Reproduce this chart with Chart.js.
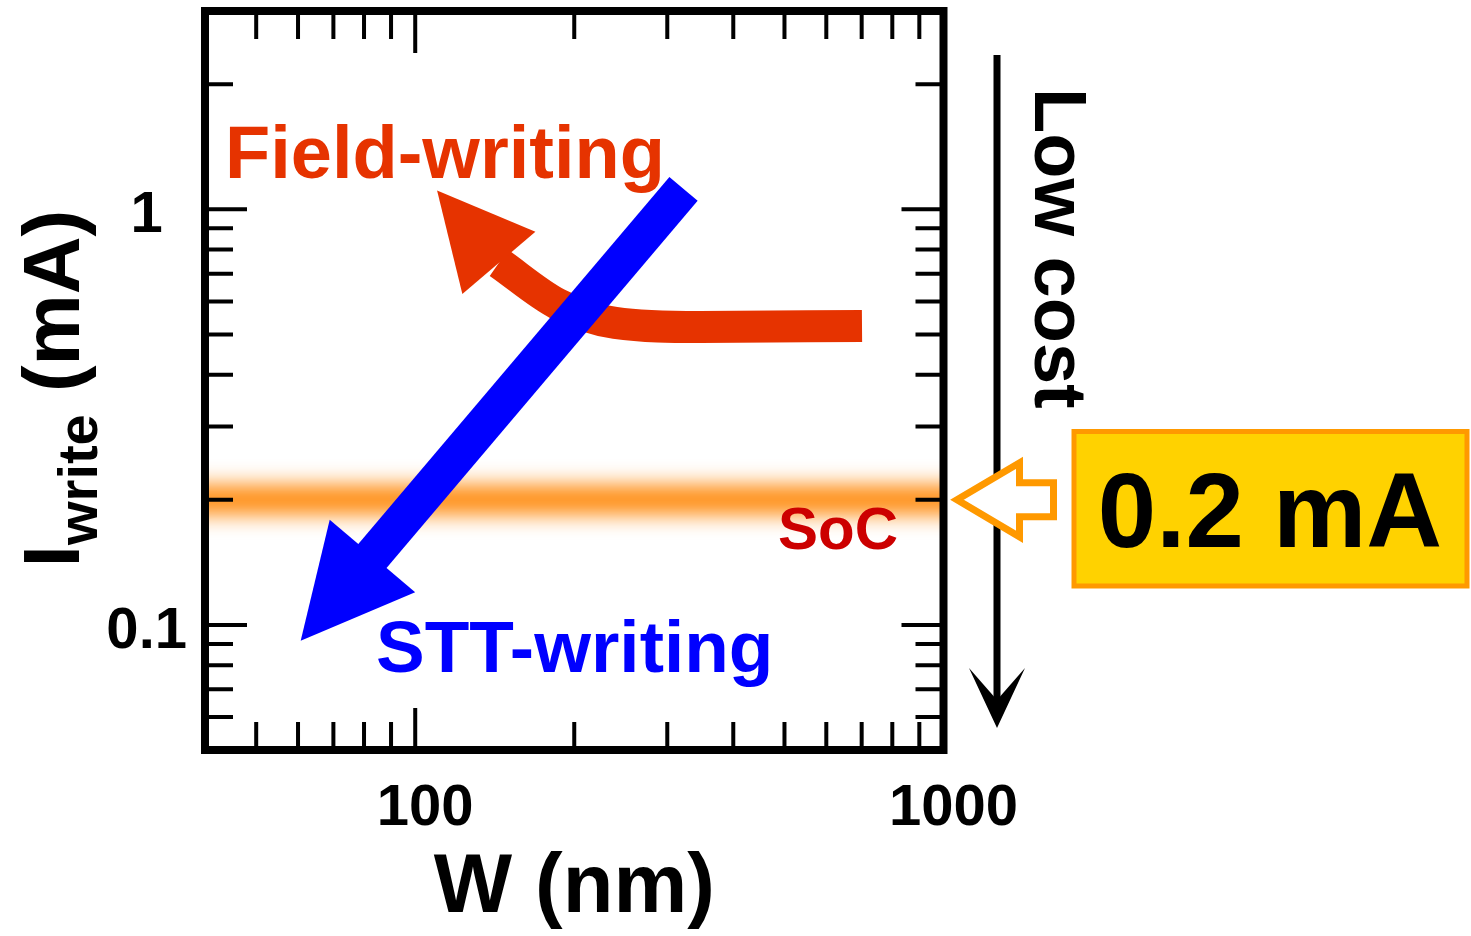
<!DOCTYPE html>
<html>
<head>
<meta charset="utf-8">
<script src="https://cdn.jsdelivr.net/npm/chart.js@4.4.0/dist/chart.umd.min.js"></script>
<style>
  html, body { margin: 0; padding: 0; background: #ffffff; }
  #wrap { position: relative; width: 1471px; height: 936px; }
</style>
</head>
<body>
<div id="wrap"><canvas id="chart"></canvas></div>
<script>
// Axis extents (log-log)
const wRange = [40, 1000];     // W (nm)
const iRange = [0.05, 3];      // I_write (mA)

// Tick marks and labelled (major) ticks
const wTicks = [50, 60, 70, 80, 90, 100, 200, 300, 400, 500, 600, 700, 800, 900, 1000];
const wMajor = [100, 1000];
const iTicks = [0.06, 0.07, 0.08, 0.09, 0.1, 0.2, 0.3, 0.4, 0.5, 0.6, 0.7, 0.8, 0.9, 1, 2];
const iMajor = [0.1, 1];

// SoC write-current level
const socLevel = 0.2;
const socSpanW = [30, 1300];

// Field-writing trend: first point is the arrow tip, the rest is the shaft
const fieldW = [110, 144, 186, 239, 346, 701];
const fieldI = [1.11, 0.743, 0.592, 0.533, 0.521, 0.524];

// STT-writing trend: tail -> tip
const sttW = [322, 60.7];
const sttI = [1.12, 0.0916];

const FONT = '"Liberation Sans", Arial, Helvetica, sans-serif';
const RED = '#E63300';
const BLUE = '#0000FF';
const ORANGE = '#FF9900';
const BAND = '#FF8400';

function fillHead(ctx, tip, back, halfW, color) {
  const dx = tip.x - back.x, dy = tip.y - back.y;
  const L = Math.hypot(dx, dy);
  const nx = -dy / L, ny = dx / L;
  ctx.beginPath();
  ctx.moveTo(tip.x, tip.y);
  ctx.lineTo(back.x + nx * halfW, back.y + ny * halfW);
  ctx.lineTo(back.x - nx * halfW, back.y - ny * halfW);
  ctx.closePath();
  ctx.fillStyle = color;
  ctx.fill();
}

const decor = {
  id: 'decor',
  beforeDatasetDraw(chart, args) {
    const ds = chart.data.datasets[args.index];
    if (ds.blur) { chart.ctx.save(); chart.ctx.filter = 'blur(' + ds.blur + 'px)'; }
  },
  afterDatasetDraw(chart, args) {
    const ds = chart.data.datasets[args.index];
    if (ds.blur) chart.ctx.restore();
  },
  afterDatasetsDraw(chart) {
    const { ctx, chartArea: a, scales: { x, y } } = chart;
    const P = (w, i) => ({ x: x.getPixelForValue(w), y: y.getPixelForValue(i) });
    ctx.save();

    // Field-writing arrowhead
    fillHead(ctx, P(fieldW[0], fieldI[0]), P(fieldW[1], fieldI[1]), 48, RED);

    // STT-writing arrow
    const tail = P(sttW[0], sttI[0]), tip = P(sttW[1], sttI[1]);
    const L = Math.hypot(tip.x - tail.x, tip.y - tail.y);
    const ux = (tip.x - tail.x) / L, uy = (tip.y - tail.y) / L;
    const headLen = 111;
    const back = { x: tip.x - ux * headLen, y: tip.y - uy * headLen };
    ctx.strokeStyle = BLUE;
    ctx.lineWidth = 37;
    ctx.lineCap = 'butt';
    ctx.beginPath();
    ctx.moveTo(tail.x, tail.y);
    ctx.lineTo(back.x + ux * 2, back.y + uy * 2);
    ctx.stroke();
    fillHead(ctx, tip, back, 56, BLUE);

    // In-plot labels
    ctx.textAlign = 'left';
    ctx.textBaseline = 'alphabetic';
    ctx.font = 'bold 74px ' + FONT;
    ctx.fillStyle = RED;
    ctx.fillText('Field-writing', 225, 178);
    ctx.font = 'bold 73px ' + FONT;
    ctx.fillStyle = BLUE;
    ctx.fillText('STT-writing', 376, 672);
    ctx.font = 'bold 60px ' + FONT;
    ctx.fillStyle = '#CC0000';
    ctx.fillText('SoC', 778, y.getPixelForValue(socLevel) + 49);

    // Frame
    ctx.strokeStyle = '#000';
    ctx.lineWidth = 8;
    ctx.lineJoin = 'miter';
    ctx.strokeRect(a.left, a.top, a.right - a.left, a.bottom - a.top);

    // Inward ticks on all four sides
    ctx.lineWidth = 4;
    ctx.beginPath();
    wTicks.forEach(v => {
      const p = x.getPixelForValue(v);
      if (p < a.left + 3 || p > a.right - 3) return;
      const len = (wMajor.includes(v) ? 38 : 24) + 4;
      ctx.moveTo(p, a.bottom); ctx.lineTo(p, a.bottom - len);
      ctx.moveTo(p, a.top); ctx.lineTo(p, a.top + len);
    });
    iTicks.forEach(v => {
      const p = y.getPixelForValue(v);
      if (p < a.top + 3 || p > a.bottom - 3) return;
      const len = (iMajor.includes(v) ? 38 : 24) + 4;
      ctx.moveTo(a.left, p); ctx.lineTo(a.left + len, p);
      ctx.moveTo(a.right, p); ctx.lineTo(a.right - len, p);
    });
    ctx.stroke();
    ctx.restore();
  },
  afterDraw(chart) {
    const { ctx, chartArea: a, scales: { y } } = chart;
    const cy = y.getPixelForValue(socLevel);
    ctx.save();

    // Y-axis title with subscript
    ctx.fillStyle = '#000';
    ctx.textAlign = 'left';
    ctx.textBaseline = 'alphabetic';
    const big = 'bold 80px ' + FONT, small = 'bold 56px ' + FONT;
    ctx.font = big; const wI = ctx.measureText('I').width;
    ctx.font = small; const wSub = ctx.measureText('write').width;
    ctx.font = big; const wRest = ctx.measureText(' (mA)').width;
    const total = wI + wSub + wRest;
    const mid = (a.top + a.bottom) / 2 + 8;
    ctx.save();
    ctx.translate(79, mid + total / 2);
    ctx.rotate(-Math.PI / 2);
    ctx.font = big; ctx.fillText('I', 0, 0);
    ctx.font = small; ctx.fillText('write', wI, 18);
    ctx.font = big; ctx.fillText(' (mA)', wI + wSub, 0);
    ctx.restore();

    // "Low cost" downward arrow
    ctx.strokeStyle = '#000';
    ctx.fillStyle = '#000';
    ctx.lineWidth = 7;
    ctx.beginPath();
    ctx.moveTo(997, 55);
    ctx.lineTo(997, 705);
    ctx.stroke();
    ctx.beginPath();
    ctx.moveTo(997, 728);
    ctx.lineTo(969, 668);
    ctx.lineTo(997, 700);
    ctx.lineTo(1025, 668);
    ctx.closePath();
    ctx.fill();

    ctx.save();
    ctx.translate(1035, 88);
    ctx.rotate(Math.PI / 2);
    ctx.font = 'bold 74px ' + FONT;
    ctx.fillText('Low cost', 0, 0);
    ctx.restore();

    // Hollow arrow pointing at the SoC level
    ctx.beginPath();
    ctx.moveTo(957, cy);
    ctx.lineTo(1019.5, cy - 37);
    ctx.lineTo(1019.5, cy - 17);
    ctx.lineTo(1053.5, cy - 17);
    ctx.lineTo(1053.5, cy + 17);
    ctx.lineTo(1019.5, cy + 17);
    ctx.lineTo(1019.5, cy + 37);
    ctx.closePath();
    ctx.fillStyle = '#fff';
    ctx.fill();
    ctx.strokeStyle = ORANGE;
    ctx.lineWidth = 7;
    ctx.lineJoin = 'miter';
    ctx.stroke();

    // Value box
    ctx.fillStyle = '#FFD200';
    ctx.fillRect(1074, 431.5, 393, 154.5);
    ctx.strokeStyle = ORANGE;
    ctx.lineWidth = 5;
    ctx.strokeRect(1074, 431.5, 393, 154.5);
    ctx.fillStyle = '#000';
    ctx.textAlign = 'center';
    ctx.font = 'bold 105px ' + FONT;
    ctx.fillText('0.2 mA', 1270, 547);

    ctx.restore();
  }
};

const tickFont = { family: FONT, size: 58, weight: 'bold' };

new Chart(document.getElementById('chart'), {
  type: 'line',
  data: {
    datasets: [
      {
        label: 'Field-writing',
        data: fieldW.slice(1).map((w, k) => ({ x: w, y: fieldI[k + 1] })),
        borderColor: RED,
        borderWidth: 32,
        borderCapStyle: 'butt',
        borderJoinStyle: 'round',
        cubicInterpolationMode: 'monotone',
        pointRadius: 0,
        fill: false,
        clip: false,
        order: 1
      },
      {
        label: 'SoC',
        data: socSpanW.map(w => ({ x: w, y: socLevel })),
        borderColor: BAND,
        borderWidth: 28,
        pointRadius: 0,
        fill: false,
        clip: 0,
        blur: 11,
        order: 2
      }
    ]
  },
  options: {
    responsive: true,
    maintainAspectRatio: false,
    animation: false,
    events: [],
    layout: { padding: { top: 11, right: 527.5, bottom: 0, left: 0 } },
    plugins: { legend: { display: false }, tooltip: { enabled: false } },
    scales: {
      x: {
        type: 'logarithmic',
        min: wRange[0],
        max: wRange[1],
        afterBuildTicks: s => { s.ticks = wTicks.map(v => ({ value: v, major: wMajor.includes(v) })); },
        afterFit: s => { s.height = 186; s.paddingLeft = 0; s.paddingRight = 0; },
        grid: { display: false, drawTicks: false },
        border: { display: false },
        ticks: {
          autoSkip: false, maxRotation: 0, minRotation: 0,
          padding: 24, labelOffset: 10, color: '#000', font: tickFont,
          callback: v => (wMajor.includes(v) ? String(v) : '')
        },
        title: {
          display: true, text: 'W (nm)', color: '#000',
          font: { family: FONT, size: 83, weight: 'bold', lineHeight: 1 },
          padding: { top: 0, bottom: 5 }
        }
      },
      y: {
        type: 'logarithmic',
        position: 'left',
        min: iRange[0],
        max: iRange[1],
        afterBuildTicks: s => { s.ticks = iTicks.map(v => ({ value: v, major: iMajor.includes(v) })); },
        afterFit: s => { s.width = 205; s.paddingTop = 0; s.paddingBottom = 0; },
        grid: { display: false, drawTicks: false },
        border: { display: false },
        ticks: {
          autoSkip: false, crossAlign: 'center',
          padding: 18, labelOffset: 7, color: '#000', font: tickFont,
          callback: v => (iMajor.includes(v) ? String(v) : '')
        }
      }
    }
  },
  plugins: [decor]
});
</script>
</body>
</html>
